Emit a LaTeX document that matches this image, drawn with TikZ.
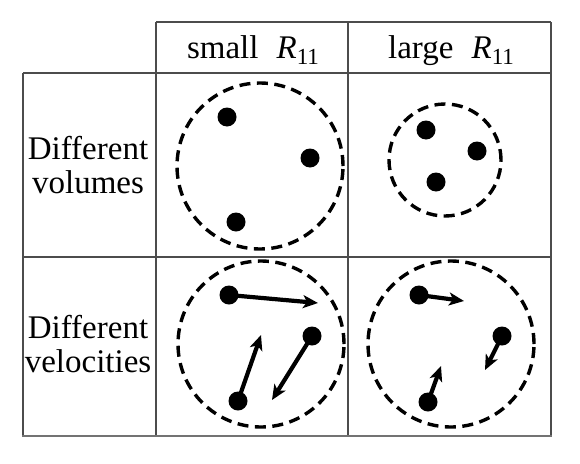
\documentclass[tikz,border=0pt]{standalone}
\usepackage{fontspec}
\setmainfont{Liberation Serif}
\usetikzlibrary{arrows.meta,positioning}

\begin{document}
\begin{tikzpicture}[x=1pt,y=-1pt,
  every node/.style={font=\fontsize{33}{34.5}\selectfont},
  grid/.style={draw=black!70,line width=1.2pt},
  ring/.style={circle,draw,line width=3.4pt,dash pattern=on 11pt off 6.5pt,inner sep=0pt},
  ball/.style={circle,fill,inner sep=0pt,minimum size=19pt},
  vel/.style={line width=4.2pt,-{Stealth[length=15pt,width=13pt,inset=4pt]}}]
  \useasboundingbox (0,0) rectangle (580,463);
  % table
  \draw[grid] (156,22)--(551,22);
  \draw[grid] (23,73)--(551,73);
  \draw[grid] (23,257)--(551,257);
  \draw[grid] (23,73)--(23,436);
  \draw[grid] (156,22)--(156,436);
  \draw[grid] (348,22)--(348,436);
  \draw[grid] (551,22)--(551,436);
  \draw[line width=2.6pt,black!55] (22,436)--(552,436);
  \node[anchor=base] (small) at (253,58) {small\hspace{0.55em}\textit{R}\raisebox{-0.2em}{\fontsize{23}{23}\selectfont 11}};
  \node[anchor=base] (large) at (451,58) {large\hspace{0.55em}\textit{R}\raisebox{-0.2em}{\fontsize{23}{23}\selectfont 11}};
  \node[align=center] (vol) at (88,165) {Different\\volumes};
  \node[align=center] (velo) at (88,344) {Different\\velocities};
  % small R, volumes
  \node[ring,minimum size=166pt] (ringA) at (260,166) {};
  \node[ball] (a1) at (227,117) {}; \node[ball] (a2) at (310,158) {};
  \node[ball] (a3) at (236,222) {};
  % large R, volumes
  \node[ring,minimum size=112pt] (ringB) at (445,160) {};
  \node[ball] (b1) at (426,130) {}; \node[ball] (b2) at (477,151) {};
  \node[ball] (b3) at (436,182) {};
  % small R, velocities
  \node[ring,minimum size=166pt] (ringC) at (261,344) {};
  \node[ball] (c1) at (229,295) {}; \node[ball] (c2) at (312,336) {};
  \node[ball] (c3) at (238,401) {};
  \coordinate (c1v) at (318,303); \coordinate (c2v) at (272,400);
  \coordinate (c3v) at (261,335);
  \draw[vel] (c1.center)--(c1v);
  \draw[vel] (c2.center)--(c2v);
  \draw[vel] (c3.center)--(c3v);
  % large R, velocities
  \node[ring,minimum size=166pt] (ringD) at (451,344) {};
  \node[ball] (d1) at (419,295) {}; \node[ball] (d2) at (502,336) {};
  \node[ball] (d3) at (428,402) {};
  \coordinate (d1v) at (464,301); \coordinate (d2v) at (485,370);
  \coordinate (d3v) at (441,366);
  \draw[vel] (d1.center)--(d1v);
  \draw[vel] (d2.center)--(d2v);
  \draw[vel] (d3.center)--(d3v);
\end{tikzpicture}
\end{document}
